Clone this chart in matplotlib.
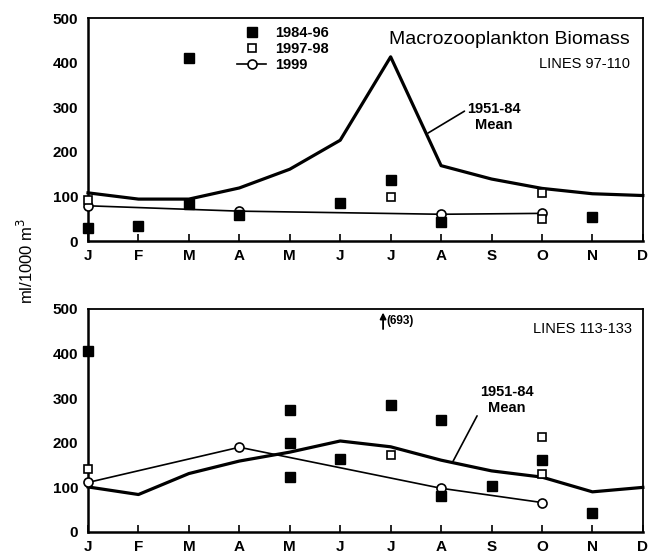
import matplotlib
matplotlib.use("Agg")
import matplotlib.pyplot as plt
import numpy as np

plt.rcParams['font.family'] = ['Liberation Sans', 'DejaVu Sans']

months = ["J", "F", "M", "A", "M", "J", "J", "A", "S", "O", "N", "D"]

# Lines 97-110
mean_top = [108, 94, 94, 119, 161, 226, 413, 169, 139, 118, 106, 102]
filled_top_x = [0, 1, 2, 2, 3, 5, 6, 7, 10]
filled_top_y = [29, 34, 410, 83, 58, 85, 136, 42, 54]
open_top_x = [0, 6, 9, 9]
open_top_y = [92, 98, 107, 49]
y1999_top_x = [0, 3, 7, 9]
y1999_top_y = [79, 67, 60, 62]

# Lines 113-133
mean_bot = [101, 84, 131, 159, 179, 204, 191, 161, 137, 123, 90, 100]
filled_bot_x = [0, 4, 4, 4, 5, 6, 7, 7, 8, 9, 10]
filled_bot_y = [406, 273, 199, 124, 164, 285, 251, 81, 102, 161, 42]
open_bot_x = [0, 6, 9, 9]
open_bot_y = [141, 173, 212, 130]
y1999_bot_x = [0, 3, 7, 9]
y1999_bot_y = [111, 190, 98, 66]
offscale_value = 693
offscale_month = 6

fig = plt.figure(figsize=(6.5, 5.56), dpi=100)
ax1 = fig.add_axes([0.1354, 0.5665, 0.8536, 0.4011])
ax2 = fig.add_axes([0.1354, 0.0432, 0.8536, 0.4011])

x = np.arange(12)


def style(ax):
    ax.set_xlim(0, 11)
    ax.set_ylim(0, 500)
    ax.set_xticks(x)
    ax.set_xticklabels(months)
    ax.set_yticks([0, 100, 200, 300, 400, 500])
    ax.tick_params(axis='x', direction='in', length=5, width=1.2, pad=6,
                   labelsize=11)
    ax.tick_params(axis='y', length=0, pad=7, labelsize=11)
    for lab in ax.get_xticklabels() + ax.get_yticklabels():
        lab.set_fontweight('bold')
    for s in ax.spines.values():
        s.set_linewidth(1.3)
    ax.spines['left'].set_linewidth(1.8)
    ax.spines['bottom'].set_linewidth(1.8)


def draw(ax, mean, fx, fy, ox, oy, cx, cy):
    ax.plot(x, mean, color='black', lw=2.3, zorder=2, clip_on=False)
    ax.plot(cx, cy, color='black', lw=1.2, marker='o', ms=6.5,
            mfc='white', mec='black', mew=1.2, zorder=3, clip_on=False,
            label='1999')
    ax.plot(fx, fy, ls='none', marker='s', ms=6.5, mfc='black',
            mec='black', zorder=4, clip_on=False, label='1984-96')
    ax.plot(ox, oy, ls='none', marker='s', ms=5.5, mfc='white',
            mec='black', mew=1.2, zorder=4, clip_on=False, label='1997-98')


draw(ax1, mean_top, filled_top_x, filled_top_y, open_top_x, open_top_y,
     y1999_top_x, y1999_top_y)
draw(ax2, mean_bot, filled_bot_x, filled_bot_y, open_bot_x, open_bot_y,
     y1999_bot_x, y1999_bot_y)
style(ax1)
style(ax2)

handles, labels = ax1.get_legend_handles_labels()
order = [1, 2, 0]
ax1.legend([handles[i] for i in order], [labels[i] for i in order],
           loc='upper left', bbox_to_anchor=(0.25, 1.01), frameon=False,
           handlelength=2.0, handletextpad=0.6,
           labelspacing=0.15, borderaxespad=0.3,
           prop={'weight': 'bold', 'size': 10.5})

ax1.text(0.977, 0.905, "Macrozooplankton Biomass", transform=ax1.transAxes,
         ha='right', va='center', fontsize=14)
ax1.text(0.977, 0.795, "LINES 97-110", transform=ax1.transAxes,
         ha='right', va='center', fontsize=10.5)
ax1.annotate("1951-84\nMean", xy=(6.74, 242), xytext=(8.05, 278),
             ha='center', va='center', fontsize=10.5, fontweight='bold',
             linespacing=1.2,
             arrowprops=dict(arrowstyle='-', color='black', lw=1.2,
                             shrinkA=0, shrinkB=0,
                             relpos=(0.0, 0.75)))

ax2.text(0.98, 0.912, "LINES 113-133", transform=ax2.transAxes,
         ha='right', va='center', fontsize=10.5)
ax2.annotate("1951-84\nMean", xy=(7.23, 157), xytext=(8.3, 296),
             ha='center', va='center', fontsize=10.5, fontweight='bold',
             linespacing=1.2,
             arrowprops=dict(arrowstyle='-', color='black', lw=1.2,
                             shrinkA=0, shrinkB=0,
                             relpos=(0.12, 0.55)))
ax2.annotate("", xy=(offscale_month - 0.15, 492),
             xytext=(offscale_month - 0.15, 455),
             arrowprops=dict(arrowstyle='-|>', color='black', lw=1.3,
                             mutation_scale=9, shrinkA=0, shrinkB=0))
ax2.text(offscale_month - 0.09, 473, f"({offscale_value})", ha='left',
         va='center', fontsize=8.5, fontweight='bold')

fig.text(0.04, 0.53, "ml/1000 m$^3$", rotation=90, ha='center',
         va='center', fontsize=12)

fig.savefig("out.png", dpi=100)
